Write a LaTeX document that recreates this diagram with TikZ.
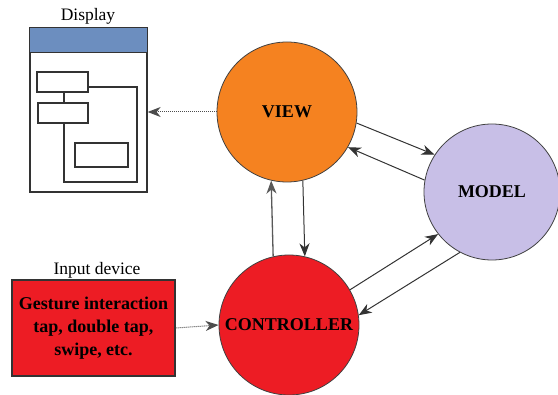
\documentclass[tikz,border=0pt]{standalone}
\usepackage{fontspec}
\setmainfont{Liberation Serif}
\usetikzlibrary{arrows.meta}
\definecolor{vieworange}{HTML}{F58220}
\definecolor{ctrlred}{HTML}{ED1C24}
\definecolor{modellilac}{HTML}{C8BFE7}
\definecolor{headblue}{HTML}{6C8EBF}
\definecolor{edgegray}{HTML}{404040}
\tikzset{
  mvc/.style={circle, draw=edgegray, line width=0.8pt, minimum size=140pt, inner sep=0pt,
              font=\fontsize{18}{21}\selectfont\bfseries},
  flow/.style={-{Stealth[length=13pt,width=10pt,inset=4pt]}, draw=black!80, line width=1pt},
  dotflow/.style={-{Stealth[length=13pt,width=10pt,inset=4pt]}, draw=black!70, line width=1pt, densely dotted},
  panel/.style={draw=black!80, line width=1.3pt, fill=white},
  widget/.style={draw=black!80, line width=1.2pt, fill=white, inner sep=0pt},
  caption/.style={font=\fontsize{17.5}{21}\selectfont, inner sep=0pt}
}
\begin{document}
\begin{tikzpicture}[x=1pt, y=-1pt]
\useasboundingbox (0,0) rectangle (558,395);

% the three MVC components
\node[mvc, fill=vieworange] (view) at (287,112) {VIEW};
\node[mvc, fill=modellilac, minimum size=136pt] (model) at (492,192) {MODEL};
\node[mvc, fill=ctrlred] (ctrl) at (289,325) {CONTROLLER};

% display window
\node[panel, minimum width=117pt, minimum height=164pt, inner sep=0pt] (display) at (88.5,110) {};
\fill[headblue] (display.north west) rectangle ([yshift=-25pt]display.north east);
\draw[black!80, line width=1.3pt] ([yshift=-25pt]display.north west) -- ([yshift=-25pt]display.north east);
\draw[black!80, line width=1.3pt] (display.north west) rectangle (display.south east);
\node[caption, anchor=base] (displaylbl) at (88,21) {Display};

\node[widget, minimum width=51pt, minimum height=20pt] (w1) at (62.5,82) {};
\node[widget, minimum width=50pt, minimum height=20pt] (w2) at (63,113) {};
\node[widget, minimum width=53pt, minimum height=24pt] (w3) at (101.5,155) {};
\coordinate (c1) at (137,87);
\coordinate (c2) at (137,182);
\coordinate (c3) at (64,182);
\draw[black!80, line width=1.2pt] (w1.south -| 64,0) -- (w2.north -| 64,0);
\draw[black!80, line width=1.2pt] (w1.east |- c1) -- (c1) -- (c2) -- (c3) -- (w2.south -| c3);

% input device
\node[draw=black!80, line width=1.3pt, fill=ctrlred, minimum width=163pt, minimum height=96pt,
      align=center, font=\fontsize{18}{23}\selectfont\bfseries] (input) at (93.5,328)
      {Gesture interaction\\tap, double tap,\\swipe, etc.};
\node[caption, anchor=base] (inputlbl) at (97,275) {Input device};

% connectors
\draw[dotflow] (view.west) -- (view.west -| display.east);
\draw[dotflow] (input.east) -- (ctrl.west);

\draw[flow, draw=black!65, line width=1.3pt] (ctrl.103) -- (view.-103);
\draw[flow] (view.-77) -- (ctrl.77);

\draw[flow] (view.-9) -- (model.147);
\draw[flow] (model.170) -- (view.-30);

\draw[flow] (ctrl.30) -- (model.218);
\draw[flow] (model.242) -- (ctrl.8);
\end{tikzpicture}
\end{document}
